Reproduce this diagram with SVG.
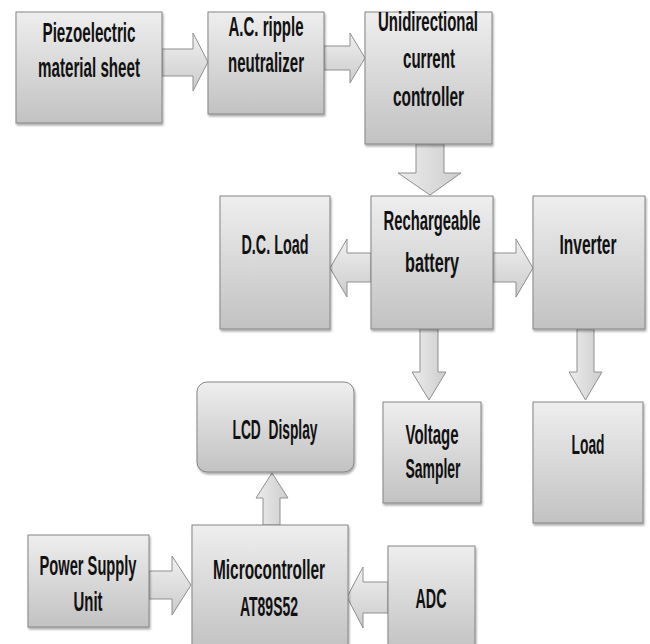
<svg xmlns="http://www.w3.org/2000/svg" width="650" height="644" viewBox="0 0 650 644">
<defs>
<linearGradient id="gBox" x1="0" y1="0" x2="0" y2="1">
<stop offset="0" stop-color="#eeeeee"/>
<stop offset="1" stop-color="#c2c2c2"/>
</linearGradient>
<linearGradient id="gArrH" x1="0" y1="0" x2="0" y2="1">
<stop offset="0" stop-color="#f0f0f0"/>
<stop offset="1" stop-color="#cbcbcb"/>
</linearGradient>
<linearGradient id="gArrV" x1="0" y1="0" x2="1" y2="0">
<stop offset="0" stop-color="#ececec"/>
<stop offset="1" stop-color="#cdcdcd"/>
</linearGradient>
<filter id="sh" x="-10%" y="-10%" width="125%" height="125%">
<feGaussianBlur in="SourceAlpha" stdDeviation="1.2"/>
<feOffset dx="1" dy="1.5" result="b"/>
<feComponentTransfer><feFuncA type="linear" slope="0.35"/></feComponentTransfer>
<feMerge><feMergeNode/><feMergeNode in="SourceGraphic"/></feMerge>
</filter>
</defs>
<style>
.box{fill:url(#gBox);stroke:#858585;stroke-width:1;filter:url(#sh)}
.ah{fill:url(#gArrH);stroke:#8f8f8f;stroke-width:1}
.av{fill:url(#gArrV);stroke:#8f8f8f;stroke-width:1}
text{font-family:"Liberation Sans Narrow","Liberation Sans",Arial,sans-serif;font-weight:bold;font-size:27px;fill:#111;text-anchor:middle}
</style>
<rect width="650" height="644" fill="#ffffff"/>
<g id="connectors">
<polygon class="ah" points="162,49 193,49 193,33 208,62 193,91 193,76 162,76"/>
<polygon class="ah" points="324,46 350,46 350,33 365,58 350,83 350,70 324,70"/>
<polygon class="av" points="416,144 444,144 444,173 461,173 430,195 398,173 416,173"/>
<polygon class="ah" points="371,253 347,253 347,239 330,268 347,297 347,282 371,282"/>
<polygon class="ah" points="493,253 516,253 516,239 533,268 516,297 516,282 493,282"/>
<polygon class="av" points="420,329 438,329 438,372 446,372 429,400 412,372 420,372"/>
<polygon class="av" points="577,329 594,329 594,372 602,372 585.5,400 569,372 577,372"/>
<polygon class="av" points="263,525 280,525 280,498 288,498 272,473 256,498 263,498"/>
<polygon class="ah" points="149,571 172,571 172,556 191,585 172,615 172,599 149,599"/>
<polygon class="ah" points="388,582 363,582 363,567 347,597 363,628 363,613 388,613"/>
</g>
<g id="piezo">
<rect class="box" x="16" y="12" width="146" height="111"/>
<text x="89" y="42" textLength="93" lengthAdjust="spacingAndGlyphs">Piezoelectric</text>
<text x="89" y="77" textLength="102" lengthAdjust="spacingAndGlyphs">material sheet</text>
</g>
<g id="ripple">
<rect class="box" x="208" y="12" width="116" height="102"/>
<text x="266" y="36" textLength="75" lengthAdjust="spacingAndGlyphs">A.C. ripple</text>
<text x="266" y="72" textLength="76" lengthAdjust="spacingAndGlyphs">neutralizer</text>
</g>
<g id="unidirectional">
<rect class="box" x="365" y="12" width="127" height="132"/>
<text x="428" y="31" textLength="100" lengthAdjust="spacingAndGlyphs">Unidirectional</text>
<text x="429" y="68" textLength="52" lengthAdjust="spacingAndGlyphs">current</text>
<text x="428.5" y="106" textLength="71" lengthAdjust="spacingAndGlyphs">controller</text>
</g>
<g id="dcload">
<rect class="box" x="220" y="196" width="110" height="133"/>
<text x="275" y="254" textLength="67" lengthAdjust="spacingAndGlyphs">D.C. Load</text>
</g>
<g id="battery">
<rect class="box" x="371" y="196" width="122" height="133"/>
<text x="432" y="230" textLength="97" lengthAdjust="spacingAndGlyphs">Rechargeable</text>
<text x="432" y="272" textLength="54" lengthAdjust="spacingAndGlyphs">battery</text>
</g>
<g id="inverter">
<rect class="box" x="533" y="196" width="112" height="133"/>
<text x="588" y="254" textLength="57" lengthAdjust="spacingAndGlyphs">Inverter</text>
</g>
<g id="voltage">
<rect class="box" x="383" y="402" width="98" height="101"/>
<text x="432" y="444" textLength="53" lengthAdjust="spacingAndGlyphs">Voltage</text>
<text x="433" y="478" textLength="55" lengthAdjust="spacingAndGlyphs">Sampler</text>
</g>
<g id="load">
<rect class="box" x="533" y="402" width="110" height="121"/>
<text x="588" y="454" textLength="33" lengthAdjust="spacingAndGlyphs">Load</text>
</g>
<g id="lcd">
<rect class="box" x="197" y="382" width="157" height="90" rx="10" ry="10"/>
<text x="275" y="439" textLength="85" lengthAdjust="spacingAndGlyphs" xml:space="preserve">LCD  Display</text>
</g>
<g id="power">
<rect class="box" x="28" y="535" width="121" height="92"/>
<text x="88" y="575" textLength="97" lengthAdjust="spacingAndGlyphs">Power Supply</text>
<text x="88" y="611" textLength="29" lengthAdjust="spacingAndGlyphs">Unit</text>
</g>
<g id="micro">
<rect class="box" x="192" y="525" width="156" height="125"/>
<text x="269" y="579" textLength="112" lengthAdjust="spacingAndGlyphs">Microcontroller</text>
<text x="269" y="616" textLength="58" lengthAdjust="spacingAndGlyphs">AT89S52</text>
</g>
<g id="adc">
<rect class="box" x="388" y="546" width="87" height="104"/>
<text x="431" y="608" textLength="31" lengthAdjust="spacingAndGlyphs">ADC</text>
</g>
</svg>
